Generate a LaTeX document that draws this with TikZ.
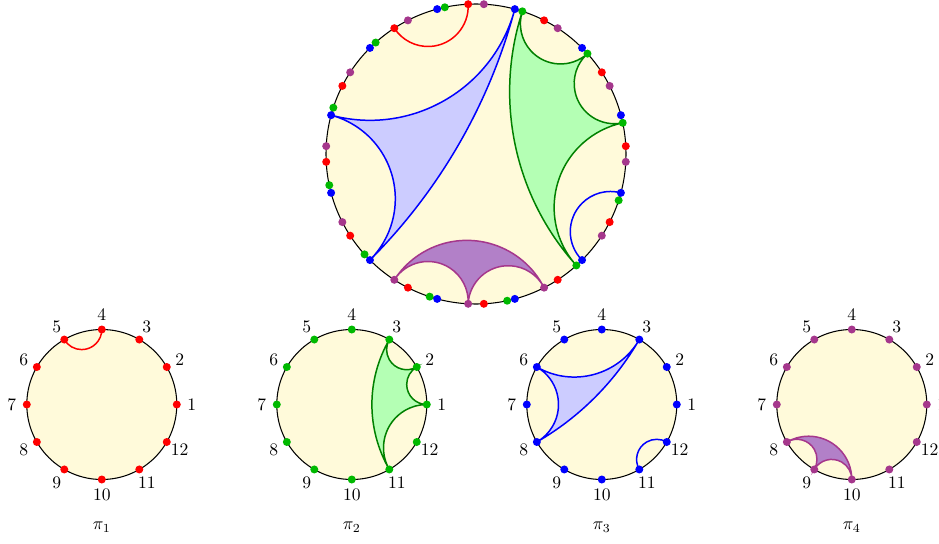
\documentclass[tikz,border=0pt]{standalone}
\usepackage{amsmath, amssymb}
\usetikzlibrary{calc}

\definecolor{sfondo}{RGB}{255,250,218}
\definecolor{rosso}{RGB}{255,0,0}
\definecolor{verde}{RGB}{0,185,0}
\definecolor{verdescuro}{RGB}{0,128,0}
\definecolor{verdechiaro}{RGB}{180,255,180}
\definecolor{blu}{RGB}{0,0,255}
\definecolor{bluchiaro}{RGB}{204,204,255}
\definecolor{viola}{RGB}{165,55,140}
\definecolor{violachiaro}{RGB}{178,128,200}

\tikzset{
  disco/.style={draw=black, line width=0.6pt, fill=sfondo},
  blocco/.style={line width=0.85pt},
  % geodetica: raggio, angolo iniziale, angolo finale
  geo/.style n args={3}{insert path={arc[start angle={#2+270}, end angle={#3+90}, radius={#1*tan((#3-#2)/2)}]}},
}

\begin{document}
\begin{tikzpicture}
    \useasboundingbox (0,0) rectangle (18.78,-10.88);

    % disco grande
    \coordinate (G) at (9.52,-3.08);
    \draw[disco] (G) circle (3);
    \foreach \col/\off in {rosso/3, verde/12, blu/15, viola/27}
        \foreach \k in {1,...,12}
            \coordinate (G\col\k) at ($(G)+({(\k-1)*30+\off}:3)$);

    % blocchi del disco grande
    \draw[blocco, rosso] (Grosso4) [geo={3}{93}{123}];
    \filldraw[blocco, draw=verdescuro, fill=verdechiaro] (Gverde1)
        [geo={3}{12}{42}] [geo={3}{42}{72}] [geo={3}{72}{312}] [geo={3}{312}{372}] -- cycle;
    \filldraw[blocco, draw=blu, fill=bluchiaro] (Gblu3)
        [geo={3}{75}{165}] [geo={3}{165}{225}] [geo={3}{225}{435}] -- cycle;
    \draw[blocco, blu] (Gblu11) [geo={3}{315}{345}];
    \filldraw[blocco, draw=viola, fill=violachiaro] (Gviola8)
        [geo={3}{237}{267}] [geo={3}{267}{297}] [geo={3}{297}{597}] -- cycle;

    % punti del disco grande
    \foreach \col in {viola, rosso, verde, blu}
        \foreach \k in {1,...,12}
            \fill[\col] (G\col\k) circle[radius=0.08];

    % dischi piccoli
    \foreach \i/\x in {1/2.036, 2/7.036, 3/12.036, 4/17.036} {
        \coordinate (P\i) at (\x,-8.09);
        \draw[disco] (P\i) circle (1.5);
        \foreach \k in {1,...,12} {
            \coordinate (P\i-\k) at ($(P\i)+({(\k-1)*30}:1.5)$);
            \node (n\i-\k) at ($(P\i)+({(\k-1)*30}:1.8)$) {\k};
        }
        \node (pi\i) at (\x,-10.55) {$\pi_{\i}$};
    }

    % blocchi dei dischi piccoli
    \draw[blocco, rosso] (P1-4) [geo={1.5}{90}{120}];
    \filldraw[blocco, draw=verdescuro, fill=verdechiaro] (P2-1)
        [geo={1.5}{0}{30}] [geo={1.5}{30}{60}] [geo={1.5}{60}{300}] [geo={1.5}{300}{360}] -- cycle;
    \filldraw[blocco, draw=blu, fill=bluchiaro] (P3-3)
        [geo={1.5}{60}{150}] [geo={1.5}{150}{210}] [geo={1.5}{210}{420}] -- cycle;
    \draw[blocco, blu] (P3-11) [geo={1.5}{300}{330}];
    \filldraw[blocco, draw=viola, fill=violachiaro] (P4-8)
        [geo={1.5}{210}{240}] [geo={1.5}{240}{270}] [geo={1.5}{270}{570}] -- cycle;

    % punti dei dischi piccoli
    \foreach \i/\col in {1/rosso, 2/verde, 3/blu, 4/viola}
        \foreach \k in {1,...,12}
            \fill[\col] (P\i-\k) circle[radius=0.08];
\end{tikzpicture}
\end{document}
